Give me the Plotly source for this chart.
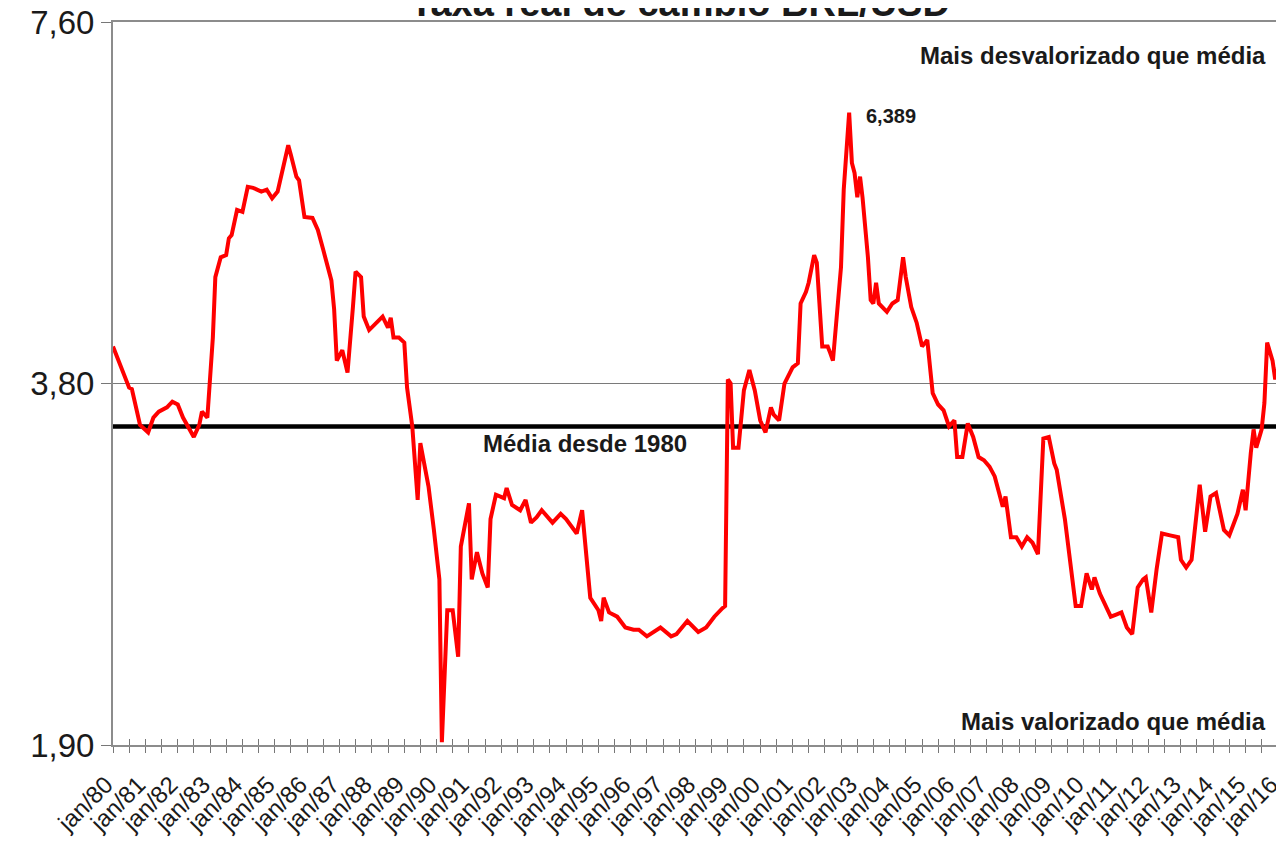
import math
import plotly.graph_objects as go

# ---------------- data ----------------
datas = [
    "1980-01", "1980-05", "1980-07", "1980-08", "1980-11", "1981-02", "1981-04", "1981-06",
    "1981-09", "1981-11", "1982-01", "1982-03", "1982-05", "1982-07", "1982-09", "1982-10",
    "1982-12", "1983-02", "1983-03", "1983-05", "1983-07", "1983-08", "1983-09", "1983-11",
    "1984-01", "1984-03", "1984-05", "1984-08", "1984-10", "1984-12", "1985-02", "1985-04",
    "1985-06", "1985-07", "1985-09", "1985-10", "1985-12", "1986-03", "1986-05", "1986-07",
    "1986-09", "1986-10", "1986-11", "1986-12", "1987-02", "1987-04", "1987-06", "1987-07",
    "1987-09", "1987-10", "1987-12", "1988-03", "1988-05", "1988-07", "1988-08", "1988-09",
    "1988-11", "1989-01", "1989-02", "1989-04", "1989-06", "1989-07", "1989-10", "1989-12",
    "1990-02", "1990-03", "1990-05", "1990-07", "1990-09", "1990-10", "1991-01", "1991-02",
    "1991-04", "1991-06", "1991-08", "1991-09", "1991-11", "1992-02", "1992-03", "1992-05",
    "1992-08", "1992-10", "1992-12", "1993-02", "1993-04", "1993-08", "1993-11", "1994-01",
    "1994-04", "1994-05", "1994-07", "1994-08", "1994-10", "1995-01", "1995-02", "1995-03",
    "1995-05", "1995-08", "1995-11", "1996-02", "1996-04", "1996-07", "1996-12", "1997-04",
    "1997-06", "1997-10", "1998-02", "1998-05", "1998-08", "1998-11", "1998-12", "1999-01",
    "1999-02", "1999-03", "1999-05", "1999-07", "1999-09", "1999-11", "2000-01", "2000-03",
    "2000-05", "2000-06", "2000-08", "2000-10", "2001-01", "2001-03", "2001-04", "2001-06",
    "2001-07", "2001-09", "2001-10", "2001-12", "2002-02", "2002-03", "2002-04", "2002-07",
    "2002-08", "2002-10", "2002-11", "2002-12", "2003-01", "2003-02", "2003-03", "2003-05",
    "2003-06", "2003-07", "2003-08", "2003-09", "2003-11", "2003-12", "2004-02", "2004-04",
    "2004-06", "2004-07", "2004-09", "2004-11", "2005-01", "2005-03", "2005-04", "2005-05",
    "2005-07", "2005-09", "2005-11", "2006-01", "2006-02", "2006-04", "2006-06", "2006-08",
    "2006-10", "2006-12", "2007-02", "2007-04", "2007-07", "2007-08", "2007-10", "2007-12",
    "2008-02", "2008-04", "2008-06", "2008-08", "2008-10", "2008-12", "2009-02", "2009-03",
    "2009-06", "2009-08", "2009-10", "2009-12", "2010-02", "2010-04", "2010-05", "2010-07",
    "2010-10", "2010-11", "2011-01", "2011-03", "2011-05", "2011-07", "2011-09", "2011-11",
    "2011-12", "2012-02", "2012-04", "2012-06", "2012-09", "2012-12", "2013-01", "2013-03",
    "2013-05", "2013-07", "2013-08", "2013-10", "2013-12", "2014-02", "2014-05", "2014-07",
    "2014-10", "2014-12", "2015-01", "2015-03", "2015-04", "2015-05", "2015-07", "2015-08",
    "2015-09", "2015-11", "2015-12", "2016-01",
]

taxa_real = [
    4.08, 3.88, 3.77, 3.76, 3.51, 3.46, 3.56, 3.60,
    3.63, 3.67, 3.65, 3.56, 3.49, 3.43, 3.51, 3.60,
    3.56, 4.15, 4.66, 4.84, 4.86, 5.02, 5.05, 5.30,
    5.28, 5.54, 5.53, 5.49, 5.51, 5.42, 5.49, 5.72,
    6.00, 5.89, 5.65, 5.61, 5.23, 5.22, 5.10, 4.91,
    4.70, 4.63, 4.38, 3.97, 4.05, 3.88, 4.40, 4.71,
    4.66, 4.32, 4.21, 4.27, 4.32, 4.23, 4.31, 4.15,
    4.15, 4.11, 3.77, 3.50, 3.04, 3.39, 3.12, 2.87,
    2.61, 1.91, 2.46, 2.46, 2.25, 2.78, 3.02, 2.61,
    2.75, 2.64, 2.57, 2.93, 3.07, 3.05, 3.11, 3.01,
    2.98, 3.04, 2.91, 2.94, 2.98, 2.91, 2.96, 2.93,
    2.87, 2.85, 2.98, 2.83, 2.52, 2.46, 2.41, 2.52,
    2.45, 2.43, 2.38, 2.37, 2.37, 2.34, 2.38, 2.34,
    2.35, 2.41, 2.36, 2.38, 2.43, 2.47, 2.48, 3.83,
    3.80, 3.36, 3.36, 3.75, 3.90, 3.75, 3.54, 3.46,
    3.63, 3.58, 3.54, 3.80, 3.92, 3.95, 4.43, 4.53,
    4.61, 4.86, 4.79, 4.08, 4.08, 4.03, 3.97, 4.75,
    5.51, 6.389, 5.80, 5.69, 5.43, 5.65, 5.43, 4.84,
    4.46, 4.43, 4.61, 4.43, 4.38, 4.36, 4.43, 4.46,
    4.84, 4.66, 4.40, 4.27, 4.08, 4.13, 3.92, 3.73,
    3.65, 3.61, 3.50, 3.54, 3.30, 3.30, 3.52, 3.43,
    3.30, 3.28, 3.24, 3.18, 3.00, 3.06, 2.83, 2.83,
    2.78, 2.83, 2.80, 2.74, 3.42, 3.43, 3.26, 3.22,
    2.93, 2.71, 2.48, 2.48, 2.64, 2.56, 2.62, 2.54,
    2.45, 2.43, 2.44, 2.45, 2.38, 2.35, 2.57, 2.61,
    2.62, 2.45, 2.66, 2.85, 2.84, 2.83, 2.71, 2.67,
    2.71, 3.00, 3.13, 2.86, 3.06, 3.08, 2.87, 2.84,
    2.96, 3.10, 2.98, 3.33, 3.48, 3.36, 3.48, 3.66,
    4.11, 3.97, 3.83, 3.92,
]

media_desde_1980 = 3.50
pico_valor = 6.389
pico_data = "2002-10"

y_ticks = [1.90, 3.80, 7.60]
y_ticktext = ["1,90", "3,80", "7,60"]

anos_x = list(range(1980, 2017))
rotulos_x = [
    "jan/80", "jan/81", "jan/82", "jan/83", "jan/84", "jan/85", "jan/86", "jan/87",
    "jan/88", "jan/89", "jan/90", "jan/91", "jan/92", "jan/93", "jan/94", "jan/95",
    "jan/96", "jan/97", "jan/98", "jan/99", "jan/00", "jan/01", "jan/02", "jan/03",
    "jan/04", "jan/05", "jan/06", "jan/07", "jan/08", "jan/09", "jan/10", "jan/11",
    "jan/12", "jan/13", "jan/14", "jan/15", "jan/16",
]

# ---------------- figure ----------------
x_ini, x_fim = "1980-01-01", "2016-01-01 12:00"

# tick marks every 6 months, label only on January
tick_vals, tick_text = [], []
for ano, rot in zip(anos_x, rotulos_x):
    tick_vals.append(f"{ano}-01-01")
    tick_text.append(rot)
    if ano < anos_x[-1]:
        tick_vals.append(f"{ano}-07-01")
        tick_text.append("")

FONT = "Arial, 'Liberation Sans', sans-serif"
TXT = "#1a1a1a"

fig = go.Figure()

fig.add_trace(go.Scatter(
    x=[x_ini, x_fim], y=[media_desde_1980, media_desde_1980],
    mode="lines", line=dict(color="#000000", width=4.5),
    hoverinfo="skip", showlegend=False,
))

fig.add_trace(go.Scatter(
    x=datas, y=taxa_real, mode="lines",
    line=dict(color="#ff0000", width=4),
    showlegend=False, name="Taxa real",
))

# invisible trace to carry the inner half of the crossing ticks
fig.add_trace(go.Scatter(
    x=[x_ini, x_fim], y=[media_desde_1980, media_desde_1980], xaxis="x2",
    mode="lines", line=dict(width=0), opacity=0,
    hoverinfo="skip", showlegend=False,
))

fig.update_layout(
    width=1276, height=833,
    margin=dict(l=105, r=6, t=14, b=96),
    paper_bgcolor="white", plot_bgcolor="white",
    font=dict(family=FONT, color=TXT),
    xaxis=dict(
        type="date", range=[x_ini, x_fim],
        tickmode="array", tickvals=tick_vals, ticktext=tick_text,
        ticks="outside", ticklen=6, tickwidth=1.3, tickcolor="#777777",
        tickangle=-45, tickfont=dict(size=24, color=TXT, family=FONT),
        ticklabelstandoff=8, ticklabelshift=-7, ticklabeloverflow="allow",
        showline=True, linecolor="#8c8c8c", linewidth=2, mirror=True,
        showgrid=False, zeroline=False, automargin=False,
    ),
    xaxis2=dict(
        type="date", range=[x_ini, x_fim], overlaying="x", anchor="y", side="bottom",
        tickmode="array", tickvals=tick_vals,
        ticks="inside", ticklen=6, tickwidth=1.3, tickcolor="#777777",
        showticklabels=False, showline=False, showgrid=False, zeroline=False,
    ),
    yaxis=dict(
        type="log", range=[math.log10(y_ticks[0]), math.log10(y_ticks[-1])],
        tickmode="array", tickvals=y_ticks, ticktext=y_ticktext,
        ticks="outside", ticklen=10, tickwidth=1.3, tickcolor="#777777",
        tickfont=dict(size=33, color=TXT, family=FONT),
        ticklabeloverflow="allow",
        showline=True, linecolor="#8c8c8c", linewidth=2, mirror=True,
        showgrid=True, gridcolor="#7a7a7a", gridwidth=1,
        zeroline=False, automargin=False,
    ),
)

def b(t):
    return f"<b>{t}</b>"

fig.add_annotation(
    text=b("Taxa real de câmbio BRL/USD"), xref="paper", yref="paper",
    x=0.487, y=1, xanchor="center", yanchor="bottom", yshift=-4,
    showarrow=False, font=dict(size=38, color=TXT, family=FONT),
)
fig.add_annotation(
    text=b("Mais desvalorizado que média"), xref="paper", yref="paper",
    x=0.9914, y=0.954, xanchor="right", yanchor="middle",
    showarrow=False, font=dict(size=24, color=TXT, family=FONT),
)
fig.add_annotation(
    text=b("Mais valorizado que média"), xref="paper", yref="paper",
    x=0.9914, y=0.032, xanchor="right", yanchor="middle",
    showarrow=False, font=dict(size=24, color=TXT, family=FONT),
)
fig.add_annotation(
    text=b("Média desde 1980"), xref="paper", yref="paper",
    x=0.405, y=0.4177, xanchor="center", yanchor="middle",
    showarrow=False, font=dict(size=24, color=TXT, family=FONT),
)
fig.add_annotation(
    text=b(f"{pico_valor:.3f}".replace(".", ",")), x=pico_data, y=math.log10(pico_valor),
    xanchor="left", yanchor="middle", xshift=15, yshift=-3,
    showarrow=False, font=dict(size=20, color=TXT, family=FONT),
)

fig.write_html("out.html")
